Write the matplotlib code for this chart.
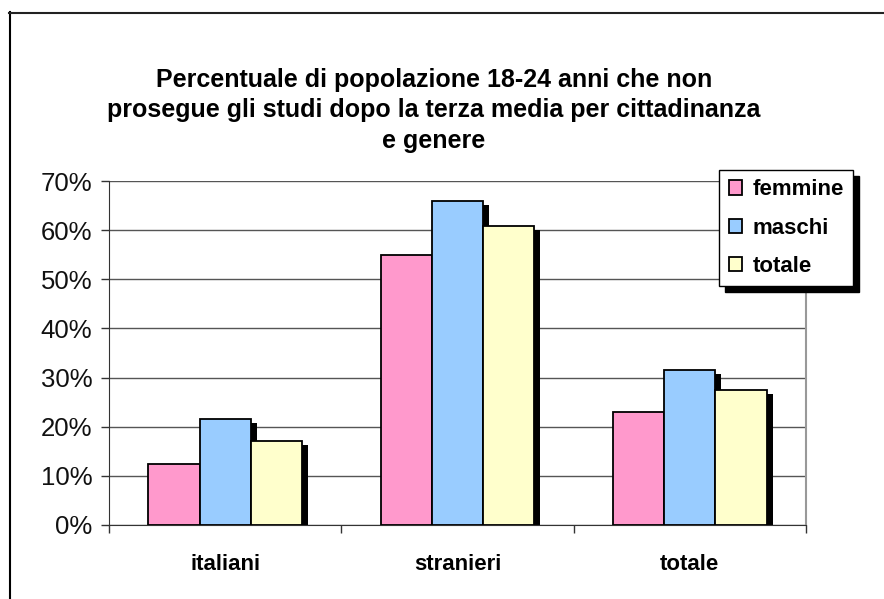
import matplotlib
matplotlib.use("Agg")
import matplotlib.pyplot as plt
import numpy as np
from matplotlib.transforms import ScaledTranslation
from matplotlib.lines import Line2D
from matplotlib.ticker import PercentFormatter, FixedLocator, NullFormatter

plt.rcParams['font.family'] = ['Liberation Sans', 'DejaVu Sans']

categories = ["italiani", "stranieri", "totale"]
series_names = ["femmine", "maschi", "totale"]
femmine = [12.5, 55.0, 23.0]
maschi = [21.5, 66.0, 31.6]
totale = [17.1, 60.8, 27.4]
colors = ["#FF99CC", "#99CCFF", "#FFFFCC"]
title = ("Percentuale di popolazione 18-24 anni che non\n"
         "prosegue gli studi dopo la terza media per cittadinanza\n"
         "e genere")

W, H = 884, 599
fig = plt.figure(figsize=(W / 100, H / 100), dpi=100)
fig.patch.set_facecolor("white")

ax = fig.add_axes([109 / W, 1 - 525 / H, (806 - 109) / W, (525 - 181) / H])

x = np.arange(len(categories))
bw = 0.22
series = [femmine, maschi, totale]

# shadows
shadow_tr = ax.transData + ScaledTranslation(6 / 100, -4 / 100, fig.dpi_scale_trans)
for i, vals in enumerate(series):
    ax.bar(x + (i - 1) * bw, vals, bw, color="black", edgecolor="black",
           linewidth=0, transform=shadow_tr, zorder=2)
for i, vals in enumerate(series):
    ax.bar(x + (i - 1) * bw, vals, bw, color=colors[i], edgecolor="black",
           linewidth=1.3, zorder=3, label=series_names[i])

ax.set_xlim(-0.5, 2.5)
ax.set_ylim(0, 70)
ax.yaxis.set_major_locator(FixedLocator(np.arange(0, 71, 10)))
ax.yaxis.set_major_formatter(PercentFormatter(decimals=0))
ax.yaxis.grid(True, color="#555555", linewidth=1.0, zorder=0)
ax.set_axisbelow(True)

ax.xaxis.set_major_locator(FixedLocator([-0.5, 0.5, 1.5, 2.5]))
ax.xaxis.set_major_formatter(NullFormatter())
ax.xaxis.set_minor_locator(FixedLocator(x))
ax.set_xticklabels(categories, minor=True, fontsize=16, fontweight="bold")
ax.tick_params(axis="x", which="minor", length=0, pad=21)
ax.tick_params(axis="x", which="major", length=6, width=1, color="#333333", direction="out")
ax.tick_params(axis="y", length=6, width=1, color="#333333", labelsize=18.5, pad=6, labelcolor="#111111")

ax.spines["top"].set_visible(False)
ax.spines["right"].set_color("#999999")
ax.spines["right"].set_linewidth(1.5)
ax.spines["left"].set_color("#333333")
ax.spines["bottom"].set_color("#333333")

leg = ax.legend(loc="upper right", bbox_to_anchor=((853 - 109) / 697, (525 - 170) / 344),
                borderaxespad=0, frameon=True, fancybox=False, edgecolor="black",
                prop={"size": 16, "weight": "bold"}, handlelength=0.62, handleheight=0.62,
                handletextpad=0.45, labelspacing=0.78, borderpad=0.42,
                shadow={"ox": 4.3, "oy": -4.3, "color": "black", "alpha": 1})
leg.get_frame().set_linewidth(1.0)
leg.set_zorder(10)

fig.text(434 / W, 1 - 68 / H, title, ha="center", va="top", fontsize=18,
         fontweight="bold", linespacing=1.33)

# figure border (left and top)
fig.add_artist(Line2D([9.5 / W, 9.5 / W], [0, 1 - 12 / H], color="black", linewidth=1.5,
                      transform=fig.transFigure))
fig.add_artist(Line2D([9 / W, 1], [1 - 12.5 / H, 1 - 12.5 / H], color="#222222", linewidth=1.5,
                      transform=fig.transFigure))

fig.savefig("out.png", dpi=100)
